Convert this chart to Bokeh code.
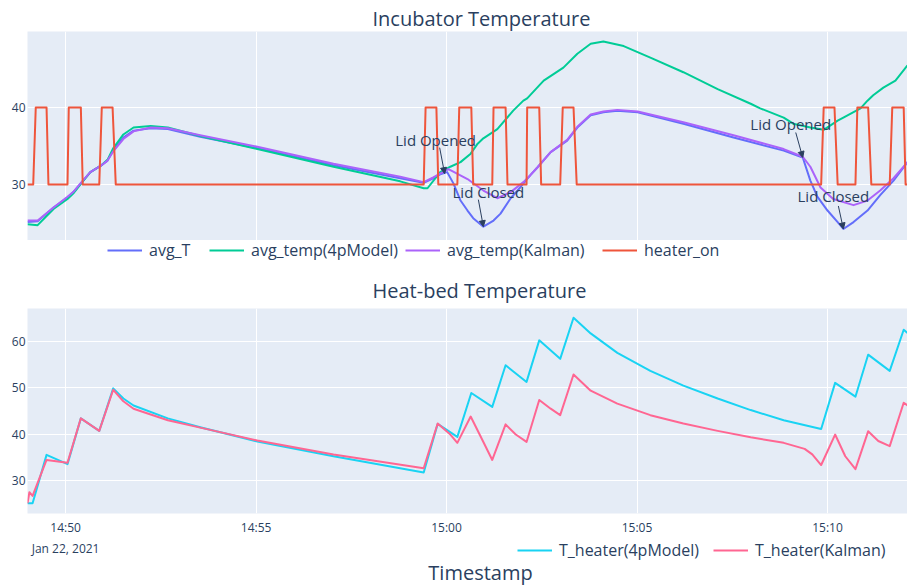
import pandas as pd
from bokeh.plotting import figure
from bokeh.models import (Range1d, FixedTicker, DatetimeTickFormatter, Legend, LegendItem,
                          Label, Arrow, NormalHead)
from bokeh.layouts import column
from bokeh.embed import file_html
from bokeh.resources import INLINE

DAY = "2021-01-22 "

# ---------------- data ----------------
x_window = ["14:49:00", "15:12:06"]
x_tick_times = ["14:50:00", "14:55:00", "15:00:00", "15:05:00", "15:10:00"]
date_context = "Jan 22, 2021"
top_y_ticks = [30, 40]
bottom_y_ticks = [30, 40, 50, 60]
top_y_window = [22.7, 49.9]
bottom_y_window = [22.8, 67.2]

avg_T_time = ["14:49:00", "14:49:16", "14:49:41", "14:50:03", "14:50:12", "14:50:28", "14:50:39",
              "14:50:55", "14:51:06", "14:51:15", "14:51:31", "14:51:47", "14:52:14", "14:52:41",
              "14:53:32", "14:55:02", "14:57:02", "14:58:47", "14:59:24", "14:59:39", "14:59:50",
              "15:00:01", "15:00:11", "15:00:22", "15:00:33", "15:00:42", "15:00:58", "15:01:14",
              "15:01:25", "15:01:41", "15:01:56", "15:02:12", "15:02:23", "15:02:44", "15:03:10",
              "15:03:26", "15:03:47", "15:04:07", "15:04:29", "15:05:01", "15:06:13", "15:07:32",
              "15:08:51", "15:09:21", "15:09:33", "15:09:44", "15:10:00", "15:10:16", "15:10:25",
              "15:10:41", "15:11:03", "15:11:23", "15:11:44", "15:12:06"]
avg_T = [25.1, 25.2, 27.0, 28.3, 29.0, 30.5, 31.6,
         32.4, 33.1, 34.4, 36.1, 37.0, 37.3, 37.2,
         36.2, 34.7, 32.5, 30.8, 30.2, 30.8, 31.3,
         31.6, 30.1, 27.9, 26.6, 25.6, 24.5, 25.3,
         26.2, 28.2, 29.6, 31.2, 32.2, 34.2, 35.7,
         37.4, 39.0, 39.4, 39.6, 39.4, 37.9, 36.1,
         34.4, 33.5, 30.5, 28.4, 26.6, 25.1, 24.2,
         25.1, 26.6, 28.6, 30.5, 32.9]

kalman_time = ["14:49:00", "14:49:16", "14:49:41", "14:50:03", "14:50:12", "14:50:28", "14:50:39",
               "14:50:55", "14:51:06", "14:51:15", "14:51:31", "14:51:47", "14:52:14", "14:52:41",
               "14:53:32", "14:55:02", "14:57:02", "14:58:47", "14:59:24", "14:59:39", "15:00:03",
               "15:00:33", "15:00:58", "15:01:20", "15:01:41", "15:02:01", "15:02:12", "15:02:23",
               "15:02:44", "15:03:10", "15:03:26", "15:03:47", "15:04:07", "15:04:29", "15:05:01",
               "15:06:13", "15:07:32", "15:08:51", "15:09:21", "15:09:33", "15:09:49", "15:10:09",
               "15:10:41", "15:11:03", "15:11:23", "15:11:44", "15:12:06"]
avg_temp_kalman = [25.3, 25.3, 27.0, 28.4, 29.0, 30.6, 31.6,
                   32.4, 33.1, 34.3, 35.9, 36.9, 37.4, 37.3,
                   36.4, 34.9, 32.7, 31.0, 30.3, 30.9, 32.0,
                   30.7, 29.2, 28.2, 29.0, 30.3, 31.2, 32.2,
                   34.2, 35.8, 37.5, 39.1, 39.5, 39.7, 39.5,
                   38.1, 36.4, 34.6, 33.6, 32.3, 29.6, 28.1,
                   27.3, 27.9, 29.2, 30.8, 32.9]

model_time = ["14:49:00", "14:49:16", "14:49:41", "14:50:03", "14:50:12", "14:50:28", "14:50:39",
              "14:50:55", "14:51:06", "14:51:15", "14:51:31", "14:51:47", "14:52:14", "14:52:41",
              "14:53:32", "14:55:02", "14:57:02", "14:58:47", "14:59:24", "14:59:30", "14:59:50",
              "15:00:06", "15:00:22", "15:00:38", "15:00:49", "15:00:58", "15:01:20", "15:01:45",
              "15:02:01", "15:02:07", "15:02:33", "15:03:04", "15:03:26", "15:03:47", "15:04:07",
              "15:04:39", "15:05:21", "15:06:13", "15:07:07", "15:07:59", "15:08:14", "15:08:51",
              "15:09:06", "15:09:33", "15:09:54", "15:10:16", "15:10:25", "15:10:41", "15:10:52",
              "15:11:03", "15:11:12", "15:11:28", "15:11:47", "15:12:06"]
avg_temp_4p = [24.8, 24.7, 26.8, 28.1, 28.8, 30.5, 31.6,
               32.4, 33.2, 34.7, 36.5, 37.4, 37.6, 37.4,
               36.3, 34.6, 32.3, 30.4, 29.5, 29.5, 31.6,
               32.3, 32.9, 34.0, 35.3, 36.0, 37.2, 39.6,
               40.9, 41.2, 43.5, 45.2, 47.0, 48.3, 48.6,
               48.0, 46.5, 44.6, 42.4, 40.5, 39.9, 38.7,
               37.9, 37.4, 37.1, 38.3, 38.7, 39.4, 39.9,
               40.9, 41.6, 42.6, 43.5, 45.5]

heater_time = ["14:49:00", "14:49:09", "14:49:13", "14:49:30", "14:49:33", "14:50:03", "14:50:05",
               "14:50:24", "14:50:27", "14:50:53", "14:50:57", "14:51:14", "14:51:19", "14:59:24",
               "14:59:27", "14:59:44", "14:59:47", "15:00:17", "15:00:20", "15:00:39", "15:00:42",
               "15:01:12", "15:01:14", "15:01:33", "15:01:36", "15:02:06", "15:02:07", "15:02:26",
               "15:02:29", "15:02:59", "15:03:03", "15:03:20", "15:03:25", "15:09:50", "15:09:54",
               "15:10:11", "15:10:16", "15:10:44", "15:10:47", "15:11:04", "15:11:09", "15:11:38",
               "15:11:42", "15:12:00", "15:12:03", "15:12:06"]
heater_on = [30, 30, 40, 40, 30, 30, 40,
             40, 30, 30, 40, 40, 30, 30,
             40, 40, 30, 30, 40, 40, 30,
             30, 40, 40, 30, 30, 40, 40,
             30, 30, 40, 40, 30, 30, 40,
             40, 30, 30, 40, 40, 30, 30,
             40, 40, 30, 30]

bed_4p_time = ["14:49:00", "14:49:08", "14:49:30", "14:50:03", "14:50:24", "14:50:53", "14:51:15",
               "14:51:31", "14:51:47", "14:52:41", "14:53:32", "14:55:02", "14:57:02", "14:59:24",
               "14:59:46", "15:00:17", "15:00:39", "15:01:12", "15:01:33", "15:02:06", "15:02:26",
               "15:02:59", "15:03:20", "15:03:47", "15:04:29", "15:05:21", "15:06:13", "15:07:07",
               "15:07:59", "15:08:51", "15:09:50", "15:10:12", "15:10:44", "15:11:04", "15:11:38",
               "15:12:00", "15:12:06"]
T_heater_4p = [25.0, 25.0, 35.5, 33.5, 43.4, 40.7, 49.9,
               47.7, 46.2, 43.4, 41.5, 38.4, 35.2, 31.7,
               42.2, 39.4, 48.9, 45.9, 54.9, 51.3, 60.3,
               56.3, 65.2, 61.8, 57.6, 53.7, 50.5, 47.7,
               45.2, 43.0, 41.1, 51.1, 48.1, 57.2, 53.7,
               62.6, 61.9]

bed_kalman_time = ["14:49:00", "14:49:03", "14:49:08", "14:49:30", "14:50:03", "14:50:24", "14:50:53",
                   "14:51:15", "14:51:31", "14:51:47", "14:52:41", "14:53:32", "14:55:02", "14:57:02",
                   "14:59:24", "14:59:46", "15:00:06", "15:00:17", "15:00:38", "15:00:58", "15:01:12",
                   "15:01:33", "15:01:49", "15:02:06", "15:02:26", "15:02:44", "15:02:59", "15:03:20",
                   "15:03:47", "15:04:29", "15:05:21", "15:06:13", "15:07:07", "15:07:59", "15:08:51",
                   "15:09:24", "15:09:36", "15:09:50", "15:10:12", "15:10:28", "15:10:44", "15:11:04",
                   "15:11:20", "15:11:38", "15:12:00", "15:12:06"]
T_heater_kalman = [25.0, 27.4, 26.6, 34.4, 33.8, 43.4, 40.7,
                   49.6, 47.1, 45.5, 43.0, 41.4, 38.6, 35.6,
                   32.6, 42.3, 39.9, 38.1, 43.8, 38.3, 34.4,
                   42.1, 39.9, 38.3, 47.4, 45.5, 44.1, 52.9,
                   49.4, 46.6, 44.1, 42.3, 40.7, 39.3, 38.1,
                   36.8, 35.6, 33.3, 39.9, 35.2, 32.4, 40.6,
                   38.5, 37.4, 46.8, 46.2]

lid_labels = ["Lid Opened", "Lid Closed", "Lid Opened", "Lid Closed"]
lid_times = ["14:59:57", "15:00:58", "15:09:21", "15:10:25"]
lid_values = [31.4, 24.5, 33.5, 24.2]

# ---------------- styling ----------------
TEXT = "#2a3f5f"
FONT = "Open Sans"
BG = "#E5ECF6"
W = 907
LEFT = 27
FRAME_W = W - LEFT
H1, HS1, H2, HS2 = 240, 30, 268, 48
TOP1 = 31
TOP2, BOT2 = 38, 22
TITLE_OFFSET = 345
label_offsets = [(-9, 34), (5, 35), (-12, 34), (-10, 33)]
tail_offsets = [(-5, 26), (-5, 27), (-7, 25), (-5, 23)]
top_legend_x = [80, 182, 378, 575]
bed_legend_x = [490, 686]


def to_dt(lst):
    return pd.to_datetime([DAY + t for t in lst])


def to_ms(lst):
    return [float(v) for v in (to_dt(lst).asi8 // 1_000_000)]


xw = to_ms(x_window)
tick_ms = to_ms(x_tick_times)
xr = Range1d(start=xw[0], end=xw[1])
kw = dict(line_width=2, line_join="round")


def make_fig(height, top, bottom, yw, yticks, title):
    p = figure(width=W, height=height, x_range=xr, y_range=Range1d(*yw),
               x_axis_type="datetime", output_backend="svg", toolbar_location=None,
               min_border_left=LEFT, min_border_right=0, min_border_top=top,
               min_border_bottom=bottom)
    p.background_fill_color = BG
    p.border_fill_color = "white"
    p.outline_line_color = None
    p.title.text = title
    p.title.align = "left"
    p.title.offset = TITLE_OFFSET
    p.title.text_font = FONT
    p.title.text_font_size = "20px"
    p.title.text_font_style = "normal"
    p.title.text_color = TEXT
    p.title.standoff = 0
    p.xgrid.ticker = FixedTicker(ticks=tick_ms)
    p.ygrid.ticker = FixedTicker(ticks=yticks)
    for g in (p.xgrid, p.ygrid):
        g.grid_line_color = "white"
        g.grid_line_width = 1
    p.yaxis.ticker = FixedTicker(ticks=yticks)
    p.xaxis.ticker = FixedTicker(ticks=tick_ms)
    for ax in p.axis:
        ax.axis_line_color = None
        ax.major_tick_line_color = None
        ax.minor_tick_line_color = None
        ax.major_tick_out = 0
        ax.major_tick_in = 0
        ax.major_label_standoff = 2
        ax.major_label_text_font = FONT
        ax.major_label_text_font_size = "12px"
        ax.major_label_text_color = TEXT
    return p


def make_strip(height):
    s = figure(width=W, height=height, x_range=xr, y_range=Range1d(0, 1),
               x_axis_location=None, y_axis_location=None,
               output_backend="svg", toolbar_location=None,
               min_border_left=LEFT, min_border_right=0, min_border_top=0,
               min_border_bottom=0)
    s.grid.visible = False
    s.outline_line_color = None
    s.background_fill_color = "white"
    s.border_fill_color = "white"
    return s


def add_legend_entry(strip, name, color, series, x, y):
    # the series is drawn again on the strip, outside its 0..1 range, only as legend key
    r = strip.line(to_dt(series[0]), series[1], line_color=color, **kw)
    lg = Legend(items=[LegendItem(label=name, renderers=[r])], location=(x, y),
                orientation="horizontal")
    lg.background_fill_alpha = 0
    lg.border_line_alpha = 0
    lg.padding = 0
    lg.margin = 0
    lg.glyph_width = 35
    lg.glyph_height = 16
    lg.label_height = 16
    lg.label_standoff = 7
    lg.label_text_font = FONT
    lg.label_text_font_size = "16px"
    lg.label_text_color = TEXT
    lg.label_text_baseline = "middle"
    strip.add_layout(lg)


top_colors = ["#636EFA", "#00CC96", "#AB63FA", "#EF553B"]
top_names = ["avg_T", "avg_temp(4pModel)", "avg_temp(Kalman)", "heater_on"]
top_series = [(avg_T_time, avg_T), (model_time, avg_temp_4p),
              (kalman_time, avg_temp_kalman), (heater_time, heater_on)]
bed_colors = ["#19D3F3", "#FF6692"]
bed_names = ["T_heater(4pModel)", "T_heater(Kalman)"]
bed_series = [(bed_4p_time, T_heater_4p), (bed_kalman_time, T_heater_kalman)]

# ---- top panel ----
p1 = make_fig(H1, TOP1, 0, top_y_window, top_y_ticks, "Incubator Temperature")
p1.xaxis.visible = False
for (t, v), c in zip(top_series, top_colors):
    p1.line(to_dt(t), v, line_color=c, **kw)

frame_h1 = H1 - TOP1
ms_per_px = (xw[1] - xw[0]) / FRAME_W
deg_per_px = (top_y_window[1] - top_y_window[0]) / frame_h1
for lab, t, v, (lx, ly), (tx, ty) in zip(lid_labels, to_ms(lid_times), lid_values,
                                          label_offsets, tail_offsets):
    p1.add_layout(Label(x=t, y=v, x_offset=lx, y_offset=ly, text=lab,
                        text_font=FONT, text_font_size="15px", text_color=TEXT,
                        text_align="center", text_baseline="middle"))
    p1.add_layout(Arrow(x_start=t + tx * ms_per_px, y_start=v + ty * deg_per_px,
                        x_end=t, y_end=v, line_color=TEXT, line_width=1,
                        end=NormalHead(size=6, fill_color=TEXT, line_color=TEXT)))

strip1 = make_strip(HS1)
for name, c, s, x in zip(top_names, top_colors, top_series, top_legend_x):
    add_legend_entry(strip1, name, c, s, x, 9)

# ---- bottom panel ----
p2 = make_fig(H2, TOP2, BOT2, bottom_y_window, bottom_y_ticks, "Heat-bed Temperature")
p2.title.standoff = 9
for (t, v), c in zip(bed_series, bed_colors):
    p2.line(to_dt(t), v, line_color=c, **kw)
p2.xaxis.formatter = DatetimeTickFormatter(minutes="%H:%M", hourmin="%H:%M", hours="%H:%M",
                                           minsec="%H:%M")
p2.xaxis.major_label_standoff = 5

strip2 = make_strip(HS2)
strip2.add_layout(Label(x=tick_ms[0], y=38, y_units="screen", text=date_context,
                        text_font=FONT, text_font_size="12px", text_color=TEXT,
                        text_align="center", text_baseline="middle"))
for name, c, s, x in zip(bed_names, bed_colors, bed_series, bed_legend_x):
    add_legend_entry(strip2, name, c, s, x, 25)
strip2.add_layout(Label(x=453, y=14, x_units="screen", y_units="screen", text="Timestamp",
                        text_font=FONT, text_font_size="20px", text_color=TEXT,
                        text_align="center", text_baseline="middle"))

layout = column(p1, strip1, p2, strip2, spacing=0)
open("out.html", "w").write(file_html(layout, INLINE))
